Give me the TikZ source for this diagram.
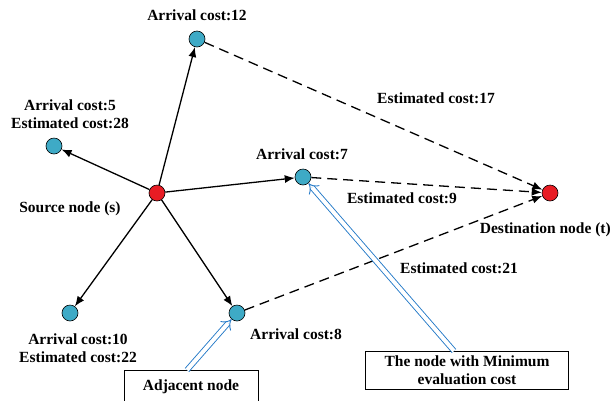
\documentclass[tikz,border=0pt]{standalone}
\usepackage{fontspec}
\setmainfont{Liberation Serif}
\usepackage{tikz}
\usetikzlibrary{arrows.meta,positioning}
\definecolor{nodeblue}{RGB}{62,170,198}
\definecolor{nodered}{RGB}{232,28,36}
\definecolor{hintblue}{RGB}{36,122,200}
\begin{document}
\begin{tikzpicture}[x=1pt,y=-1pt,
  txt/.style={font=\fontsize{15.5}{18}\selectfont\bfseries,inner sep=0pt,align=center},
  vtx/.style={circle,draw=black,line width=0.6pt,minimum size=16pt,inner sep=0pt},
  mid/.style={vtx,fill=nodeblue},
  endpt/.style={vtx,fill=nodered},
  hop/.style={line width=1.3pt,-{Latex[length=10pt,width=8pt]}},
  guess/.style={hop,dash pattern=on 10pt off 6pt},
  tag/.style={txt,draw=black,line width=0.8pt,inner sep=0pt},
  pointer/.style={draw=hintblue,line width=0.9pt,double=white,double distance=4pt,-{Implies}}]
\useasboundingbox (0,0) rectangle (613,400);
\node[endpt] (s) at (157,193) {};
\node[endpt] (t) at (550,193) {};
\node[mid] (n12) at (197,39) {};
\node[mid] (n5) at (54,146) {};
\node[mid] (n7) at (303,177) {};
\node[mid] (n10) at (70,313) {};
\node[mid] (n8) at (237,313) {};
\node[txt,anchor=base] (l12) at (197,20) {Arrival cost:12};
\node[txt,anchor=base] (l5) at (70,128) {Arrival cost:5\\Estimated cost:28};
\node[txt,anchor=base] (l7) at (302,159) {Arrival cost:7};
\node[txt,anchor=base] (ls) at (70,212) {Source node (s)};
\node[txt,anchor=base] (l17) at (436,103) {Estimated cost:17};
\node[txt,anchor=base] (l9) at (402,203) {Estimated cost:9};
\node[txt,anchor=base east] (lt) at (611,233) {Destination node (t)};
\node[txt,anchor=base] (l21) at (459,273) {Estimated cost:21};
\node[txt,anchor=base] (l10) at (78,362) {Arrival cost:10\\Estimated cost:22};
\node[txt,anchor=base west] (l8) at (250,339) {Arrival cost:8};
\node[tag,minimum width=134pt,minimum height=32pt,anchor=north] (adj) at (191,370) {Adjacent node};
\node[tag,minimum width=203pt,minimum height=38pt,anchor=north] (best) at (467,351) {The node with Minimum\\evaluation cost};
\draw[hop] (s) -- (n12);
\draw[hop] (s) -- (n5);
\draw[hop] (s) -- (n7);
\draw[hop] (s) -- (n10);
\draw[hop] (s) -- (n8);
\draw[guess] (n12) -- (t);
\draw[guess] (n7) -- (t);
\draw[guess] (n8) -- (t);
\draw[pointer] ([xshift=-4pt]adj.north) -- (n8);
\draw[pointer] ([xshift=-13pt]best.north) -- (n7);
\end{tikzpicture}
\end{document}
